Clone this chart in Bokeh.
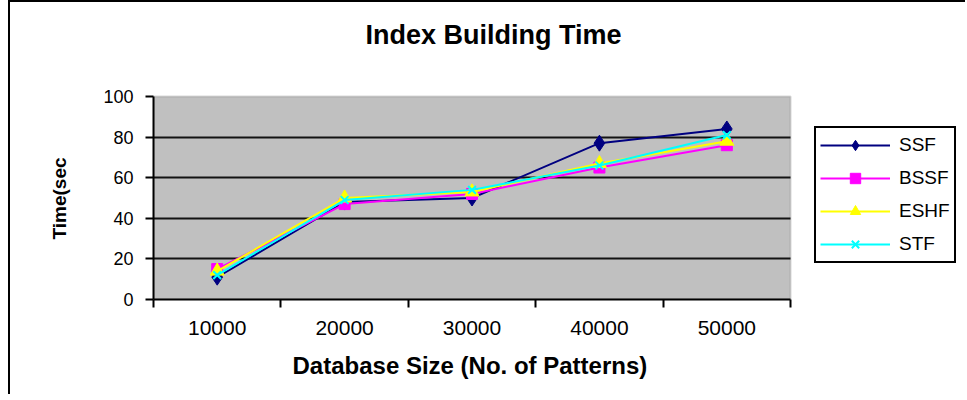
from bokeh.plotting import figure
from bokeh.models import (Range1d, FixedTicker, Legend, LegendItem, BoxAnnotation,
                          Label, Title)
from bokeh.embed import file_html
from bokeh.resources import INLINE

categories = ["10000", "20000", "30000", "40000", "50000"]
ssf = [11, 48, 50, 77, 84]
bssf = [15, 47, 52, 65, 76]
eshf = [14, 50, 53, 67, 78]
stf = [12, 49, 54, 66, 81]
y_ticks = [0, 20, 40, 60, 80, 100]

FONT = "Liberation Sans"
xs = list(range(1, len(categories) + 1))
x_lo, x_hi = 0.5, len(categories) + 0.5
y_lo, y_hi = y_ticks[0], y_ticks[-1]

# frame extends right (legend area) and up (title area); plot area is a box inside it
p = figure(width=957, height=394, output_backend="svg", toolbar_location=None,
           x_range=Range1d(x_lo, 6.889), y_range=Range1d(y_lo, 146.3),
           min_border_left=143, min_border_right=0, min_border_top=0, min_border_bottom=97)
p.styles = {"border-left": "2px solid black", "border-top": "2px solid black",
            "margin-left": "8px"}
p.outline_line_color = None
p.background_fill_color = "white"
p.border_fill_color = "white"

plot_area = BoxAnnotation(left=x_lo, right=x_hi, bottom=y_lo, top=y_hi,
                          fill_color="#C0C0C0", fill_alpha=1,
                          line_color="#808080", line_width=2, level="image")
p.add_layout(plot_area)

# title
p.add_layout(Label(x=3.169, y=130.5, text="Index Building Time", text_align="center",
                   text_baseline="middle", text_font=FONT, text_font_size="27px",
                   text_font_style="bold", text_color="black"))

# x axis
xaxis = p.below[0]
xaxis.bounds = (x_lo, x_hi)
xaxis.ticker = FixedTicker(ticks=xs, minor_ticks=[x - 0.5 for x in xs] + [x_hi])
xaxis.major_label_overrides = {x: c for x, c in zip(xs, categories)}
xaxis.major_tick_in = 0
xaxis.major_tick_out = 0
xaxis.minor_tick_in = 0
xaxis.minor_tick_out = 8
xaxis.minor_tick_line_color = "black"
xaxis.minor_tick_line_width = 2
xaxis.axis_line_color = "black"
xaxis.axis_line_width = 2
xaxis.major_label_text_font = FONT
xaxis.major_label_text_font_size = "21px"
xaxis.major_label_text_color = "black"
xaxis.major_label_standoff = 13

p.add_layout(Title(text="Database Size (No. of Patterns)", align="left", offset=139,
                   vertical_align="top", standoff=28, text_font=FONT,
                   text_font_size="24px", text_font_style="bold", text_color="black"),
             "below")

# y axis
yaxis = p.left[0]
yaxis.bounds = (y_lo, y_hi)
yaxis.ticker = FixedTicker(ticks=y_ticks, minor_ticks=[])
yaxis.major_tick_in = 0
yaxis.major_tick_out = 8
yaxis.major_tick_line_color = "black"
yaxis.major_tick_line_width = 2
yaxis.axis_line_color = "black"
yaxis.axis_line_width = 2
yaxis.major_label_text_font = FONT
yaxis.major_label_text_font_size = "18px"
yaxis.major_label_text_color = "black"
yaxis.major_label_standoff = 12

p.add_layout(Title(text="Time(sec", align="left", offset=60, vertical_align="bottom",
                   standoff=62, text_font=FONT, text_font_size="19px",
                   text_font_style="bold", text_color="black"), "left")

p.xgrid.visible = False
p.ygrid.ticker = FixedTicker(ticks=y_ticks[1:-1])
p.ygrid.cross_bounds = (x_lo, x_hi)
p.ygrid.grid_line_color = "black"
p.ygrid.grid_line_width = 2
p.ygrid.grid_line_alpha = 0.9

items = []
series = [
    ("SSF", ssf, "#000080", "diamond", 16),
    ("BSSF", bssf, "#FF00FF", "square", 11),
    ("ESHF", eshf, "#FFFF00", "triangle", 14),
    ("STF", stf, "#00FFFF", "x", 11),
]
for name, vals, color, marker, size in series:
    ln = p.line(xs, vals, line_color=color, line_width=2)
    sc = p.scatter(xs, vals, marker=marker, size=size, fill_color=color,
                   line_color=color, line_width=2 if marker == "x" else 1)
    items.append(LegendItem(label=name, renderers=[ln, sc]))

legend = Legend(items=items, location=(661, 36))
legend.label_text_font = FONT
legend.label_text_font_size = "19px"
legend.label_text_color = "black"
legend.glyph_width = 70
legend.glyph_height = 26
legend.label_height = 26
legend.label_standoff = 9
legend.spacing = 7
legend.padding = 4
legend.margin = 0
legend.border_line_color = "black"
legend.border_line_width = 2
legend.border_line_alpha = 1
legend.background_fill_color = "white"
legend.background_fill_alpha = 1
p.add_layout(legend, "center")

open("out.html", "w").write(file_html(p, INLINE))
